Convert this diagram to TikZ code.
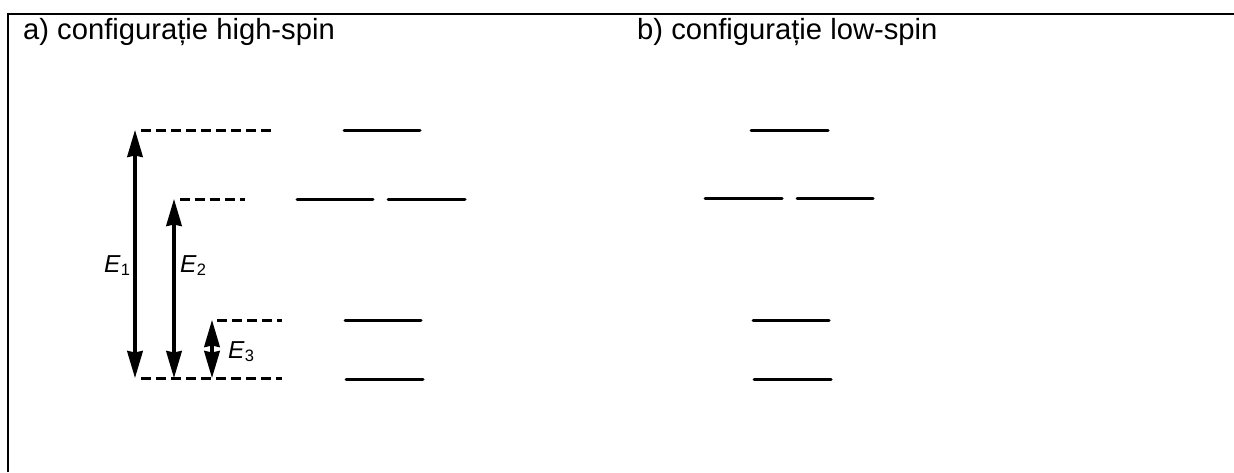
\documentclass[tikz,border=0pt]{standalone}
\usepackage{fontspec}
\setmainfont{Liberation Sans}
\usetikzlibrary{arrows.meta}
\newcommand{\lowidx}[1]{\raisebox{-3pt}{\fontsize{16.5}{17}\selectfont #1}}
\tikzset{
  level/.style={line width=3pt,line cap=round},
  guide/.style={line width=3pt,dash pattern=on 10pt off 5pt},
  gap/.style={line width=3.2pt,{Stealth[length=27pt,width=15.5pt,inset=1.5pt]}-{Stealth[length=27pt,width=15.5pt,inset=1.5pt]}},
  frameline/.style={line width=2.4pt},
  heading/.style={anchor=base west,inner sep=0pt,font=\fontsize{29.2}{34}\selectfont},
  sym/.style={anchor=base west,inner sep=0pt,font=\fontsize{24.5}{28}\selectfont}
}
\begin{document}
\begin{tikzpicture}[x=1pt,y=-1pt]
\useasboundingbox (0,0) rectangle (1234,472);
\fill[white] (0,0) rectangle (1234,472);
% frame
\coordinate (fa) at (8,472);
\coordinate (fb) at (8,14);
\coordinate (fc) at (1234,14);
\draw[frameline] (fa) -- (fb) -- (fc);
% headings
\node[heading] (ha) at (23,39.5) {a) configurație high-spin};
\node[heading] (hb) at (637,39.5) {b) configurație low-spin};
% guide ends
\coordinate (t1) at (135,130);
\coordinate (t1s) at (141,130);
\coordinate (t1e) at (271,130);
\coordinate (t2) at (174,199);
\coordinate (t2s) at (180,199);
\coordinate (t2e) at (245,199);
\coordinate (t3) at (212,320);
\coordinate (t3s) at (217,320);
\coordinate (t3e) at (282,320);
\coordinate (b1) at (135,378);
\coordinate (b2) at (174,378);
\coordinate (b3) at (212,378);
\coordinate (bs) at (141,378);
\coordinate (be) at (282,378);
\draw[guide] (t1s) -- (t1e);
\draw[guide] (t2s) -- (t2e);
\draw[guide] (t3s) -- (t3e);
\draw[guide] (bs) -- (be);
\draw[gap] (b1) -- (t1);
\draw[gap] (b2) -- (t2);
\draw[gap] (b3) -- (t3);
% labels
\node[sym] (e1) at (104,272) {\textit{E}\lowidx{1}};
\node[sym] (e2) at (180,272) {\textit{E}\lowidx{2}};
\node[sym] (e3) at (228,358) {\textit{E}\lowidx{3}};
% high-spin levels
\coordinate (a1s) at (344,130); \coordinate (a1e) at (420,130);
\coordinate (a2s) at (297,199); \coordinate (a2e) at (373,199);
\coordinate (a3s) at (388,199); \coordinate (a3e) at (465,199);
\coordinate (a4s) at (345,320); \coordinate (a4e) at (421,320);
\coordinate (a5s) at (346,379); \coordinate (a5e) at (423,379);
\draw[level] (a1s) -- (a1e);
\draw[level] (a2s) -- (a2e);
\draw[level] (a3s) -- (a3e);
\draw[level] (a4s) -- (a4e);
\draw[level] (a5s) -- (a5e);
% low-spin levels
\coordinate (c1s) at (751,130); \coordinate (c1e) at (828,130);
\coordinate (c2s) at (705,198); \coordinate (c2e) at (782,198);
\coordinate (c3s) at (797,198); \coordinate (c3e) at (873,198);
\coordinate (c4s) at (753,320); \coordinate (c4e) at (829,320);
\coordinate (c5s) at (754,379); \coordinate (c5e) at (831,379);
\draw[level] (c1s) -- (c1e);
\draw[level] (c2s) -- (c2e);
\draw[level] (c3s) -- (c3e);
\draw[level] (c4s) -- (c4e);
\draw[level] (c5s) -- (c5e);
\end{tikzpicture}
\end{document}
